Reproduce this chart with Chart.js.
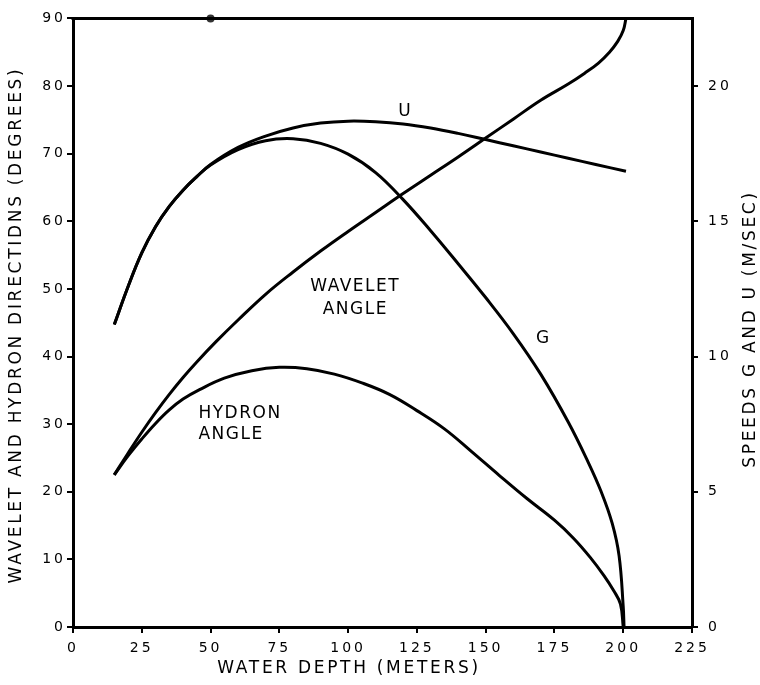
<!DOCTYPE html>
<html>
<head>
<meta charset="utf-8">
<script src="https://cdn.jsdelivr.net/npm/chart.js@4"></script>
<style>
  body { margin: 0; background: #fff; }
  canvas { display: block; }
</style>
</head>
<body>
<canvas id="chart" width="760" height="685"></canvas>
<script>
// depth (m) and speeds (m/s)
const depthU = [15, 20, 25, 30, 35, 40, 45, 50, 60, 70, 80, 90, 100, 110, 120, 130, 140, 150, 160, 170, 180, 190, 201];
const speedU = [11.18, 12.58, 13.83, 14.8, 15.55, 16.15, 16.65, 17.1, 17.73, 18.15, 18.45, 18.63, 18.7, 18.68, 18.6, 18.45, 18.25, 18.02, 17.79, 17.56, 17.33, 17.1, 16.85];

const depthG = [15, 20, 25, 30, 35, 40, 45, 50, 60, 70, 80, 90, 100, 110, 120, 130, 140, 150, 160, 170, 180, 187, 192, 196, 198.5, 200, 200.3];
const speedG = [11.18, 12.58, 13.83, 14.8, 15.55, 16.15, 16.65, 17.08, 17.65, 17.98, 18.05, 17.88, 17.48, 16.8, 15.8, 14.65, 13.43, 12.18, 10.85, 9.35, 7.58, 6.15, 5.0, 3.83, 2.63, 0.75, 0];

// angles in degrees
const depthWavelet = [15, 20, 25, 30, 35, 40, 45, 52, 60, 70, 80, 90, 100, 110, 120, 130, 140, 150, 160, 170, 180, 186, 191, 195, 198, 200, 201];
const angleWavelet = [22.5, 25.7, 28.8, 31.7, 34.4, 36.9, 39.2, 42.2, 45.4, 49.2, 52.5, 55.6, 58.5, 61.3, 64.1, 66.8, 69.5, 72.3, 75.1, 77.9, 80.3, 81.9, 83.4, 85, 86.6, 88.2, 90];

const depthHydron = [15, 20, 25, 30, 35, 40, 46, 55, 65, 75, 85, 95, 105, 115, 125, 135, 145, 155, 165, 175, 182, 188, 193, 196.5, 199, 200];
const angleHydron = [22.5, 25.3, 27.8, 30.1, 32.1, 33.7, 35.1, 36.8, 37.9, 38.4, 38.2, 37.4, 36.1, 34.4, 32.0, 29.3, 25.9, 22.4, 19.0, 15.8, 13.1, 10.3, 7.6, 5.4, 3.4, 0];

// small blot on the top border in the scan
const blotDepth = [50];
const blotAngle = [90];

const depthTicks = [0, 25, 50, 75, 100, 125, 150, 175, 200, 225];
const angleTicks = [0, 10, 20, 30, 40, 50, 60, 70, 80, 90];
const speedTicks = [0, 5, 10, 15, 20];

// curve labels, in depth / degree units
const curveLabels = [
  { text: "U", x: 120.8, y: 76.2, align: "center" },
  { text: "WAVELET", x: 102.6, y: 50.3, align: "center" },
  { text: "ANGLE", x: 102.6, y: 47.0, align: "center" },
  { text: "G", x: 171, y: 42.6, align: "center" },
  { text: "HYDRON", x: 45.6, y: 31.5, align: "left" },
  { text: "ANGLE", x: 45.6, y: 28.5, align: "left" },
];

const toPoints = (xs, ys) => xs.map((x, i) => ({ x: x, y: ys[i] }));
const FONT = "'DejaVu Sans', sans-serif";

const curve = (label, xs, ys, axis) => ({
  label: label,
  data: toPoints(xs, ys),
  yAxisID: axis,
  borderColor: "#000",
  borderWidth: 3,
  pointRadius: 0,
  tension: 0.4,
  fill: false,
});

const spacing = {
  id: "spacing",
  beforeDraw(chart) {
    chart.ctx.letterSpacing = "3px";
  },
};

const frameAndText = {
  id: "frameAndText",
  afterDraw(chart) {
    const { ctx, chartArea } = chart;
    const xs = chart.scales.x;
    const ys = chart.scales.y;
    ctx.save();
    // top border
    ctx.strokeStyle = "#000";
    ctx.lineWidth = 3;
    ctx.beginPath();
    ctx.moveTo(chartArea.left - 1.5, chartArea.top);
    ctx.lineTo(chartArea.right + 1.5, chartArea.top);
    ctx.stroke();

    ctx.fillStyle = "#000";
    ctx.textBaseline = "middle";
    ctx.font = "17px " + FONT;
    ctx.letterSpacing = "1.5px";
    curveLabels.forEach((l) => {
      ctx.textAlign = l.align;
      ctx.fillText(l.text, xs.getPixelForValue(l.x), ys.getPixelForValue(l.y));
    });

    // axis titles
    ctx.font = "17px " + FONT;
    ctx.letterSpacing = "2.7px";
    ctx.textAlign = "center";
    ctx.fillText("WATER DEPTH (METERS)", 349, 669);

    ctx.save();
    ctx.translate(17, 325);
    ctx.rotate(-Math.PI / 2);
    ctx.fillText("WAVELET AND HYDRON DIRECTIDNS (DEGREES)", 0, 0);
    ctx.restore();

    ctx.save();
    ctx.translate(751, 329);
    ctx.rotate(-Math.PI / 2);
    ctx.fillText("SPEEDS G AND U (M/SEC)", 0, 0);
    ctx.restore();
    ctx.restore();
  },
};

const tickFont = { family: FONT, size: 14 };
const axisGrid = {
  display: true,
  drawOnChartArea: false,
  drawTicks: true,
  tickLength: 6,
  color: "#000",
  lineWidth: 2,
};
const axisBorder = { display: true, color: "#000", width: 3 };

new Chart(document.getElementById("chart"), {
  type: "line",
  data: {
    datasets: [
      curve("U", depthU, speedU, "y1"),
      curve("G", depthG, speedG, "y1"),
      curve("Wavelet angle", depthWavelet, angleWavelet, "y"),
      curve("Hydron angle", depthHydron, angleHydron, "y"),
      {
        type: "scatter",
        label: "blot",
        data: toPoints(blotDepth, blotAngle),
        yAxisID: "y",
        pointRadius: 4,
        backgroundColor: "#333",
        borderWidth: 0,
        clip: false,
      },
    ],
  },
  options: {
    responsive: false,
    animation: false,
    layout: { padding: { top: 14, left: 0, right: 0, bottom: 0 } },
    plugins: {
      legend: { display: false },
      tooltip: { enabled: false },
    },
    scales: {
      x: {
        type: "linear",
        min: 0,
        max: 225,
        afterBuildTicks: (s) => { s.ticks = depthTicks.map((v) => ({ value: v })); },
        afterFit: (s) => { s.height = 58; },
        ticks: { font: tickFont, color: "#000", padding: 7, maxRotation: 0 },
        grid: axisGrid,
        border: axisBorder,
      },
      y: {
        position: "left",
        min: 0,
        max: 90,
        afterBuildTicks: (s) => { s.ticks = angleTicks.map((v) => ({ value: v })); },
        afterFit: (s) => { s.width = 73; },
        ticks: { font: tickFont, color: "#000", padding: 1 },
        grid: axisGrid,
        border: axisBorder,
      },
      y1: {
        position: "right",
        min: 0,
        max: 22.5,
        afterBuildTicks: (s) => { s.ticks = speedTicks.map((v) => ({ value: v })); },
        afterFit: (s) => { s.width = 68; },
        ticks: { font: tickFont, color: "#000", padding: 10 },
        grid: axisGrid,
        border: axisBorder,
      },
    },
  },
  plugins: [spacing, frameAndText],
});
</script>
</body>
</html>
